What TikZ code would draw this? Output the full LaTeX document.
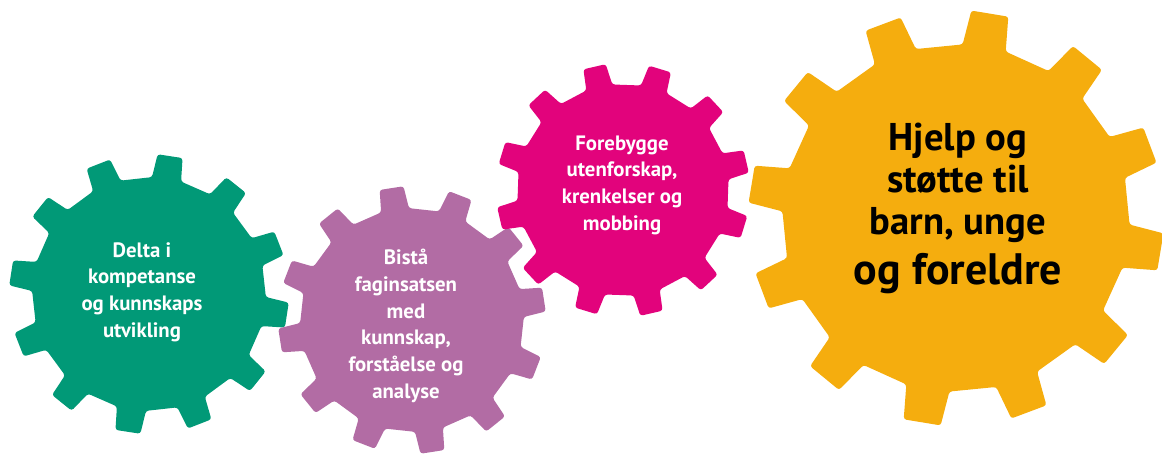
\documentclass[tikz,border=0pt]{standalone}
\usepackage{fontspec}
\setmainfont{PT Sans}
\definecolor{ggreen}{HTML}{019977}
\definecolor{gpurple}{HTML}{B26CA4}
\definecolor{gpink}{HTML}{E2037C}
\definecolor{gorange}{HTML}{F5AD0E}
\newcommand\gearshape[4]{%
  \begin{scope}[shift={#2}]
    \pgfmathsetmacro\Ro{#3}
    \pgfmathsetmacro\Ri{0.835*#3}
    \pgfmathsetmacro\ao{asin(0.09)}
    \pgfmathsetmacro\ai{asin(0.105/0.835)}
    \pgfmathsetmacro\Rm{\Ri*cos(15-\ai)}
    \fill[#1, rounded corners=2pt] ({#4-15}:\Rm)
      \foreach \k in {0,...,11}{
        -- ({#4+30*\k-\ai}:\Ri) -- ({#4+30*\k-\ao}:\Ro)
        -- ({#4+30*\k+\ao}:\Ro) -- ({#4+30*\k+\ai}:\Ri)
      } -- cycle;
  \end{scope}}
\tikzset{
  wtext/.style={text=white, font=\bfseries\fontsize{15.6}{20}\selectfont, align=center, inner sep=0pt},
  btext/.style={text=black, font=\bfseries\fontsize{29}{31.5}\selectfont, align=center, inner sep=0pt}
}
\begin{document}
\begin{tikzpicture}[x=0.75pt,y=0.75pt]
  \useasboundingbox (0,0) rectangle (1162,453);
  \gearshape{ggreen}{(149,159)}{140}{81.3}
  \gearshape{gpurple}{(412,133)}{134}{98.8}
  \gearshape{gpink}{(623,263)}{127}{103}
  \gearshape{gorange}{(956,235)}{208}{80.6}
  \node[wtext] (tgreen) at (142,161) {Delta i\\kompetanse\\og kunnskaps\\utvikling};
  \node[wtext] (tpurple) at (406,127) {Bistå\\faginsatsen\\med\\kunnskap,\\forståelse og\\analyse};
  \node[wtext] (tpink) at (622,268) {Forebygge\\utenforskap,\\krenkelser og\\mobbing};
  \node[btext] (torange) at (958,245) {Hjelp og\\støtte til\\barn, unge\\[6pt]{\fontsize{33}{39}\selectfont og foreldre}};
\end{tikzpicture}
\end{document}
